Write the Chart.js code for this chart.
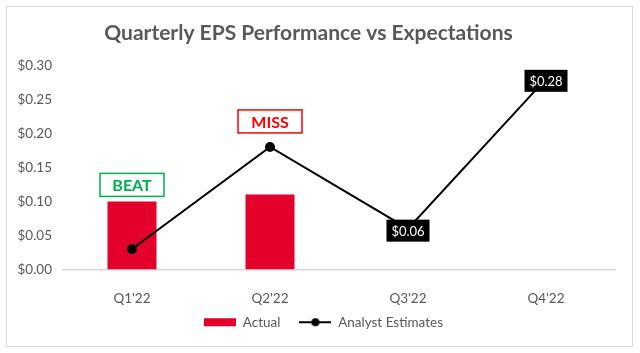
<!DOCTYPE html>
<html>
<head>
<meta charset="utf-8">
<script src="https://cdn.jsdelivr.net/npm/chart.js@4"></script>
<style>
  html, body { margin: 0; padding: 0; background: #fff; }
  #wrap { width: 640px; height: 353px; }
</style>
</head>
<body>
<div id="wrap"><canvas id="myChart"></canvas></div>
<script>
const quarters = ["Q1'22", "Q2'22", "Q3'22", "Q4'22"];
const actual = [0.10, 0.11, null, null];
const estimates = [0.03, 0.18, 0.06, 0.28];
const verdicts = ['BEAT', 'MISS', null, null];
const yTicks = [0, 0.05, 0.10, 0.15, 0.20, 0.25, 0.30];

const grey = '#595959';
const red = '#e3002b';
const font = 'Lato';

// small pictures for the legend
function legendIcon(kind) {
  const c = document.createElement('canvas');
  c.width = 32; c.height = 10;
  const g = c.getContext('2d');
  if (kind === 'bar') {
    g.fillStyle = red;
    g.fillRect(0, 1, 32, 8);
  } else {
    g.strokeStyle = '#000';
    g.lineWidth = 2;
    g.beginPath(); g.moveTo(0, 5); g.lineTo(32, 5); g.stroke();
    g.fillStyle = '#000';
    g.beginPath(); g.arc(16, 5, 4, 0, Math.PI * 2); g.fill();
  }
  return c;
}

const extras = {
  id: 'extras',
  afterLayout(chart) {
    // nudge the legend: a bit right of centre and closer to the axis labels
    const lg = chart.legend;
    lg.left += 15; lg.right += 15;
    lg.top -= 11; lg.bottom -= 11;
  },
  beforeDraw(chart) {
    const g = chart.ctx;
    g.save();
    g.fillStyle = '#fff';
    g.fillRect(0, 0, chart.width, chart.height);
    g.strokeStyle = '#d9d9d9';
    g.lineWidth = 1;
    g.strokeRect(6.5, 6.5, 626, 340);
    g.restore();
  },
  afterDatasetsDraw(chart) {
    const g = chart.ctx;
    const x = chart.scales.x, y = chart.scales.y;
    g.save();
    g.textAlign = 'center';
    g.textBaseline = 'middle';
    verdicts.forEach((v, i) => {
      if (!v) return;
      const cx = x.getPixelForValue(i);
      const a = actual[i], e = estimates[i];
      const bottom = a >= e ? y.getPixelForValue(a) - 5 : y.getPixelForValue(e) - 14;
      const col = v === 'BEAT' ? '#00b050' : '#ff0000';
      const w = 64, h = 23;
      g.fillStyle = '#fff';
      g.fillRect(cx - w / 2, bottom - h, w, h);
      g.strokeStyle = col;
      g.lineWidth = 1.5;
      g.strokeRect(cx - w / 2, bottom - h, w, h);
      g.fillStyle = col;
      g.font = 'bold 16px ' + font;
      g.fillText(v, cx, bottom - h / 2 + 1);
    });
    estimates.forEach((e, i) => {
      if (actual[i] !== null) return;
      const cx = x.getPixelForValue(i);
      const cy = y.getPixelForValue(e) + 2;
      const w = 43, h = 22;
      g.fillStyle = '#000';
      g.fillRect(cx - w / 2, cy - h / 2, w, h);
      g.fillStyle = '#fff';
      g.font = '13px ' + font;
      g.fillText('$' + e.toFixed(2), cx, cy + 1);
    });
    g.restore();
  }
};

new Chart(document.getElementById('myChart'), {
  data: {
    labels: quarters,
    datasets: [
      {
        type: 'line',
        label: 'Analyst Estimates',
        data: estimates,
        borderColor: '#000',
        backgroundColor: '#000',
        borderWidth: 2,
        pointRadius: 4,
        pointHoverRadius: 4,
        tension: 0,
        order: 1
      },
      {
        type: 'bar',
        label: 'Actual',
        data: actual,
        backgroundColor: red,
        barPercentage: 0.355,
        categoryPercentage: 1,
        order: 2
      }
    ]
  },
  options: {
    responsive: true,
    maintainAspectRatio: false,
    animation: false,
    layout: { padding: { left: 2, right: 25, top: 0, bottom: 3 } },
    scales: {
      x: {
        grid: { display: false, drawTicks: false },
        border: { color: '#d9d9d9', width: 1.5 },
        ticks: { color: grey, font: { family: font, size: 13.5 }, padding: 21 },
        afterFit(s) { s.height = 38; }
      },
      y: {
        min: 0, max: 0.30,
        afterBuildTicks(axis) { axis.ticks = yTicks.map(v => ({ value: v })); },
        grid: { display: false, drawTicks: false },
        border: { display: false },
        ticks: {
          color: grey, font: { family: font, size: 13.5 }, padding: 11,
          callback: v => '$' + Number(v).toFixed(2)
        },
        afterFit(s) { s.width = 61; }
      }
    },
    plugins: {
      title: {
        display: true,
        text: 'Quarterly EPS Performance vs Expectations',
        color: grey,
        font: { family: font, size: 21, weight: 'bold' },
        padding: { top: 21, bottom: 19 }
      },
      legend: {
        position: 'bottom',
        reverse: true,
        labels: {
          color: grey,
          font: { family: font, size: 13.5 },
          usePointStyle: true,
          pointStyleWidth: 32,
          padding: 19,
          generateLabels(chart) {
            return chart.data.datasets.map((ds, i) => ({
              text: ds.label,
              datasetIndex: i,
              fontColor: grey,
              pointStyle: legendIcon(ds.type),
              lineWidth: 0,
              strokeStyle: 'transparent',
              fillStyle: 'transparent'
            }));
          }
        }
      },
      tooltip: { enabled: false }
    }
  },
  plugins: [extras]
});
</script>
</body>
</html>
